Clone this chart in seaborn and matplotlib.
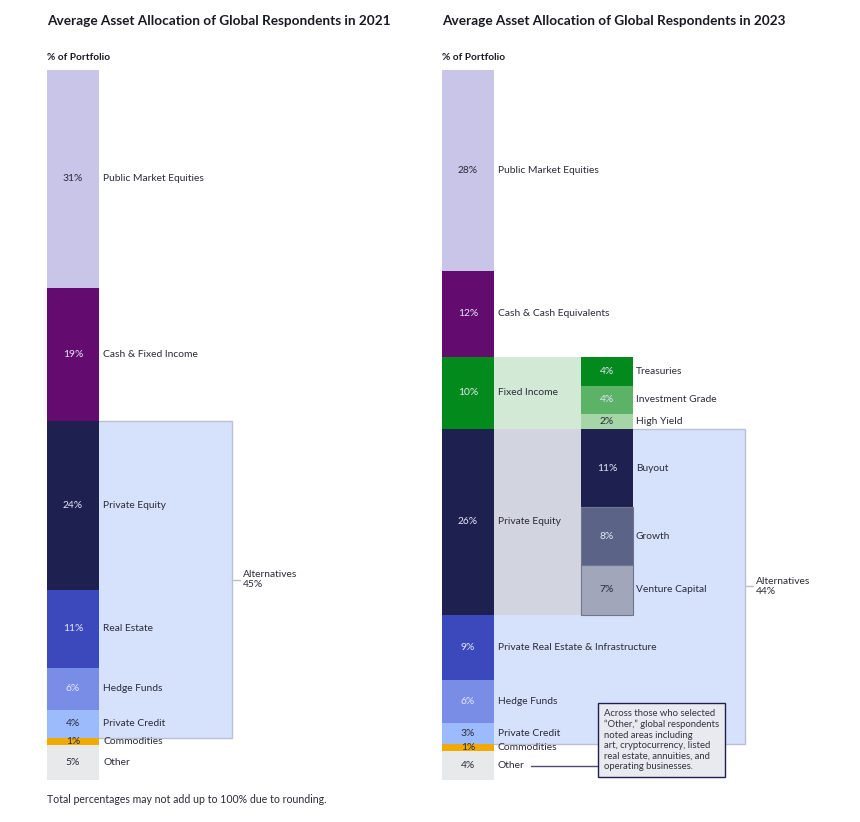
import numpy as np
import matplotlib
matplotlib.use("Agg")
import matplotlib.pyplot as plt
from matplotlib.patches import Rectangle
import seaborn as sns

# data
labels_2021 = ["Public Market Equities", "Cash & Fixed Income", "Private Equity", "Real Estate",
               "Hedge Funds", "Private Credit", "Commodities", "Other"]
values_2021 = [31, 19, 24, 11, 6, 4, 1, 5]
alts_2021 = ["Private Equity", "Real Estate", "Hedge Funds", "Private Credit"]
alt_total_2021 = 45

labels_2023 = ["Public Market Equities", "Cash & Cash Equivalents", "Fixed Income", "Private Equity",
               "Private Real Estate & Infrastructure", "Hedge Funds", "Private Credit", "Commodities", "Other"]
values_2023 = [28, 12, 10, 26, 9, 6, 3, 1, 4]
alts_2023 = ["Private Equity", "Private Real Estate & Infrastructure", "Hedge Funds", "Private Credit"]
alt_total_2023 = 44

fi_labels = ["Treasuries", "Investment Grade", "High Yield"]
fi_values = [4, 4, 2]
pe_labels = ["Buyout", "Growth", "Venture Capital"]
pe_values = [11, 8, 7]

other_note = ("Across those who selected\n\u201cOther,\u201d global respondents\nnoted areas including\n"
              "art, cryptocurrency, listed\nreal estate, annuities, and\noperating businesses.")

colors = {
    "Public Market Equities": "#c9c5e8",
    "Cash & Fixed Income": "#630b6f",
    "Cash & Cash Equivalents": "#630b6f",
    "Fixed Income": "#038a1c",
    "Private Equity": "#1e2150",
    "Real Estate": "#3c49bd",
    "Private Real Estate & Infrastructure": "#3c49bd",
    "Hedge Funds": "#7a8de6",
    "Private Credit": "#9bbbfd",
    "Commodities": "#f0aa00",
    "Other": "#e8e9eb",
    "Treasuries": "#038a1c",
    "Investment Grade": "#5cb266",
    "High Yield": "#a6d6a8",
    "Buyout": "#1e2150",
    "Growth": "#5b6387",
    "Venture Capital": "#a1a6ba",
}
light = {"Public Market Equities", "Private Credit", "Commodities", "Other", "High Yield", "Venture Capital"}
edged = {"Growth", "Venture Capital"}

sns.set_theme(style="white")
plt.rcParams["font.family"] = ["Lato", "DejaVu Sans"]

TXT = "#2b2b3a"
FS = 7.4
FIG_W, FIG_H = 860, 822
BAR_W = 52
GAP_W = 87

fig = plt.figure(figsize=(FIG_W / 100, FIG_H / 100), dpi=100)


def make_ax(left_px, width_px):
    return fig.add_axes([left_px / FIG_W, 1 - 780 / FIG_H, width_px / FIG_W, 710 / FIG_H])


def stack(ax, x0, labels, values, base=0.0):
    bottoms = base + np.concatenate([[0], np.cumsum(values)[:-1]])
    for lab, v, b in zip(labels, values, bottoms):
        e = lab in edged
        sns.barplot(x=[x0 + BAR_W / 2], y=[v], native_scale=True, orient="x", width=BAR_W,
                    bottom=b, color=colors[lab], saturation=1, errorbar=None, ax=ax,
                    linewidth=0.8 if e else 0, edgecolor="#6f748f" if e else "none", zorder=2)
        ax.text(x0 + BAR_W / 2, b + v / 2, f"{v}%", ha="center", va="center", fontsize=FS,
                color=TXT if lab in light else "#e3e6f8", zorder=5)
    return bottoms


def alt_box(ax, labels, values, alts, width, total_label):
    bottoms = np.concatenate([[0], np.cumsum(values)[:-1]])
    idx = [labels.index(a) for a in alts]
    y0 = bottoms[min(idx)]
    y1 = bottoms[max(idx)] + values[max(idx)]
    ax.add_patch(Rectangle((0, y0), width, y1 - y0, facecolor="#d6e1fc", edgecolor="#b8c0d2",
                           lw=1, zorder=0.5))
    ym = (y0 + y1) / 2
    ax.plot([width, width + 8], [ym, ym], color="#b8c0d2", lw=1, zorder=1)
    ax.text(width + 11, ym, f"Alternatives\n{total_label}%", ha="left", va="center",
            fontsize=FS, color=TXT, linespacing=1.2)


# ---- 2021 panel
ax1 = make_ax(47, 383)
alt_box(ax1, labels_2021, values_2021, alts_2021, 185, alt_total_2021)
b21 = stack(ax1, 0, labels_2021, values_2021)
for lab, v, b in zip(labels_2021, values_2021, b21):
    ax1.text(BAR_W + 4, b + v / 2, lab, ha="left", va="center", fontsize=FS, color=TXT, zorder=5)
ax1.set_xlim(0, 383)
ax1.set_ylim(sum(values_2021), 0)
ax1.set_axis_off()

# ---- 2023 panel
ax2 = make_ax(442, 398)
alt_box(ax2, labels_2023, values_2023, alts_2023, 303, alt_total_2023)
b23 = stack(ax2, 0, labels_2023, values_2023)
for lab, v, b in zip(labels_2023, values_2023, b23):
    ax2.text(BAR_W + 4, b + v / 2, lab, ha="left", va="center", fontsize=FS, color=TXT, zorder=5)

sub_x = BAR_W + GAP_W
for parent, sub_labels, sub_values, fill in [
    ("Fixed Income", fi_labels, fi_values, "#d2e9d5"),
    ("Private Equity", pe_labels, pe_values, "#d2d4df"),
]:
    i = labels_2023.index(parent)
    ax2.add_patch(Rectangle((BAR_W, b23[i]), GAP_W, values_2023[i], facecolor=fill,
                            edgecolor="none", zorder=1))
    sb = stack(ax2, sub_x, sub_labels, sub_values, base=b23[i])
    for lab, v, b in zip(sub_labels, sub_values, sb):
        ax2.text(sub_x + BAR_W + 3, b + v / 2, lab, ha="left", va="center", fontsize=FS,
                 color=TXT, zorder=5)

# note for "Other"
io = labels_2023.index("Other")
y_other = b23[io] + values_2023[io] / 2
ax2.plot([89, 156], [y_other, y_other], color="#4a5070", lw=1, zorder=4)
fig.text(604 / FIG_W, 1 - 709 / FIG_H, other_note, ha="left", va="top",
         fontsize=6.8, color="#333340", linespacing=1.22, zorder=6,
         bbox=dict(boxstyle="square,pad=0.6", facecolor="#e9eaef", edgecolor="#1e2150", lw=1))
ax2.set_xlim(0, 398)
ax2.set_ylim(sum(values_2023), 0)
ax2.set_axis_off()

# titles and notes
for x_px, year in [(47, 2021), (442, 2023)]:
    fig.text(x_px / FIG_W, 1 - 21 / FIG_H, f"Average Asset Allocation of Global Respondents in {year}",
             ha="left", va="center", fontsize=9.8, fontweight="bold", color="#1a1a24")
    fig.text(x_px / FIG_W, 1 - 57 / FIG_H, "% of Portfolio", ha="left", va="center",
             fontsize=7.3, fontweight="bold", color="#1a1a24")
fig.text(47 / FIG_W, 1 - 799 / FIG_H, "Total percentages may not add up to 100% due to rounding.",
         ha="left", va="center", fontsize=7.6, color=TXT)

fig.savefig("out.png", dpi=100, facecolor="white")
